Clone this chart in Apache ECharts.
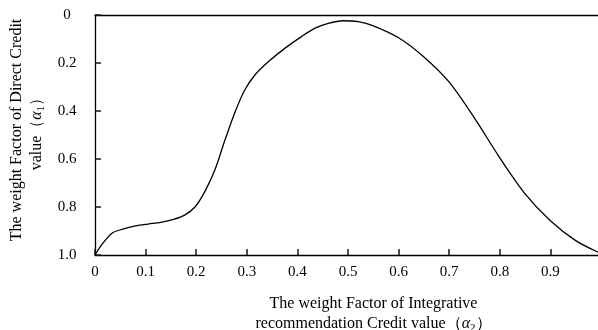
<!DOCTYPE html>
<html>
<head>
<meta charset="utf-8">
<script src="https://cdn.jsdelivr.net/npm/echarts@6/dist/echarts.min.js"></script>
<style>html,body{margin:0;padding:0;background:#fff}#c{width:598px;height:330px}</style>
</head>
<body>
<div id="c"></div>
<script>
const xValues = [0, 0.013, 0.033, 0.053, 0.08, 0.105, 0.13, 0.155, 0.178, 0.198, 0.217, 0.237, 0.257, 0.277, 0.296, 0.316, 0.343, 0.375, 0.408, 0.435, 0.461, 0.49, 0.52, 0.55, 0.6, 0.65, 0.7, 0.75, 0.8, 0.85, 0.9, 0.95, 0.996];
const yValues = [1.0, 0.958, 0.91, 0.893, 0.879, 0.871, 0.864, 0.852, 0.833, 0.799, 0.736, 0.645, 0.52, 0.403, 0.3125, 0.25, 0.194, 0.139, 0.09, 0.055, 0.035, 0.024, 0.028, 0.045, 0.095, 0.175, 0.28, 0.43, 0.595, 0.745, 0.857, 0.94, 0.99];
const xAxisTitle = 'The weight Factor of Integrative\nrecommendation Credit value（{a|α}{s|2}）';
const yAxisTitle = 'The weight Factor of Direct Credit\nvalue（{a|α}{s|1}）';

const FONT = 'Liberation Serif';
const chart = echarts.init(document.getElementById('c'));
const richStyle = {
  a: {fontFamily: FONT, fontStyle: 'italic', fontSize: 16, color: '#000'},
  s: {fontFamily: FONT, fontSize: 11, color: '#000', verticalAlign: 'bottom', padding: [6,0,0,0]}
};
chart.setOption({
  animation: false,
  grid: {left: 95, top: 15, right: -2, bottom: 75, outerBoundsMode: 'none'},
  xAxis: [{
    type: 'value', min: 0, max: 0.998, interval: 0.1,
    axisLine: {show: true, onZero: false, lineStyle: {color: '#000', width: 1.3}},
    axisTick: {show: true, inside: true, length: 6, lineStyle: {color: '#1a1a1a', width: 1.5}},
    axisLabel: {color: '#000', fontFamily: FONT, fontSize: 15, margin: 10,
      formatter: v => v > 0.95 ? '' : (v === 0 ? '0' : v.toFixed(1))},
    splitLine: {show: false},
    name: xAxisTitle, nameLocation: 'middle', nameGap: 39,
    nameTextStyle: {color: '#000', fontFamily: FONT, fontSize: 16, lineHeight: 20, padding: [0,0,0,52], rich: richStyle}
  }, {
    type: 'value', position: 'top', min: 0, max: 0.998,
    axisLine: {show: true, onZero: false, lineStyle: {color: '#000', width: 1.3}},
    axisTick: {show: false}, axisLabel: {show: false}, splitLine: {show: false}
  }],
  yAxis: {
    type: 'value', inverse: true, min: 0, max: 1, interval: 0.2,
    axisLine: {show: true, onZero: false, lineStyle: {color: '#000', width: 1.3}},
    axisTick: {show: true, inside: true, length: 6, lineStyle: {color: '#1a1a1a', width: 1.5}},
    axisLabel: {color: '#000', fontFamily: FONT, fontSize: 15, margin: 28, align: 'center',
      formatter: v => v === 0 ? '0' : v.toFixed(1)},
    splitLine: {show: false},
    name: yAxisTitle, nameLocation: 'middle', nameGap: 33,
    nameTextStyle: {color: '#000', fontFamily: FONT, fontSize: 16, lineHeight: 20, padding: [0,0,0,10], rich: richStyle}
  },
  series: [{
    type: 'line', smooth: 0.3, showSymbol: false,
    lineStyle: {color: '#000', width: 1.3},
    data: xValues.map((x, i) => [x, yValues[i]])
  }]
});
</script>
</body>
</html>
